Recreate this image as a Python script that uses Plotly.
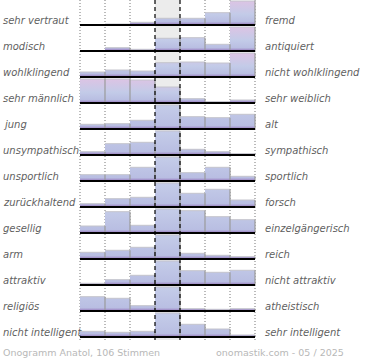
import plotly.graph_objects as go

# ---------------- data ----------------
left_labels = ["sehr vertraut", "modisch", "wohlklingend", "sehr männlich", "jung",
               "unsympathisch", "unsportlich", "zurückhaltend", "gesellig", "arm",
               "attraktiv", "religiös", "nicht intelligent"]
right_labels = ["fremd", "antiquiert", "nicht wohlklingend", "sehr weiblich", "alt",
                "sympathisch", "sportlich", "forsch", "einzelgängerisch", "reich",
                "nicht attraktiv", "atheistisch", "sehr intelligent"]

# bar heights per row, 7 scale steps (24 = full row height; middle values of
# rows 5-13 exceed the visible range and are drawn clipped)
r_vertraut     = [0.0, 1.0, 2.7, 6.7, 6.7, 12.3, 24.0]
r_modisch      = [0.0, 3.3, 1.7, 12.7, 13.3, 6.7, 24.0]
r_wohlklingend = [5.0, 7.0, 6.0, 14.3, 15.0, 14.0, 24.0]
r_maennlich    = [24.0, 24.0, 23.0, 16.0, 4.3, 1.3, 3.0]
r_jung         = [4.7, 5.3, 8.7, 48.0, 12.3, 11.3, 14.7]
r_sympathisch  = [3.3, 11.3, 12.7, 48.0, 5.7, 3.3, 1.3]
r_sportlich    = [6.3, 6.3, 13.7, 48.0, 8.3, 13.7, 4.7]
r_forsch       = [3.3, 8.3, 9.7, 48.0, 13.7, 17.7, 7.0]
r_gesellig     = [7.0, 21.3, 7.7, 48.0, 22.3, 16.3, 13.3]
r_arm          = [6.7, 8.7, 11.7, 48.0, 5.7, 3.7, 2.3]
r_attraktiv    = [1.7, 5.3, 9.7, 48.0, 14.3, 12.7, 14.7]
r_religioes    = [14.3, 12.7, 5.3, 48.0, 2.3, 1.7, 2.3]
r_intelligent  = [5.7, 4.7, 5.7, 48.0, 12.7, 8.0, 2.0]

rows = [r_vertraut, r_modisch, r_wohlklingend, r_maennlich, r_jung, r_sympathisch,
        r_sportlich, r_forsch, r_gesellig, r_arm, r_attraktiv, r_religioes, r_intelligent]

footer_left = "Onogramm Anatol, 106 Stimmen"
footer_right = "onomastik.com - 05 / 2025"

# ---------------- layout constants ----------------
W, H = 370, 360
X0, COLW = 80, 25          # left edge of plot / column width in px
ROW0, ROWH = 25, 26        # first baseline (px from top) / row pitch
CAP = 24.0                 # visible bar height
NCOL = 7


def sy(py):
    """screen y (px from top) -> data y"""
    return H - py


fig = go.Figure()

# bars with vertical gradient
right_x, right_y, top_x, top_y = [], [], [], []
for r, vals in enumerate(rows):
    base = sy(ROW0 + ROWH * r)
    G = max(CAP, max(vals))
    cs = [[0.0, "#8e7db6"], [1.5 / G, "#a596cc"], [3.2 / G, "#b9bee2"],
          [0.45, "#c3cbe8"], [1.0, "#dcc4e4"]]
    for c, v in enumerate(vals):
        h = min(v, CAP)
        if h <= 0:
            continue
        fig.add_trace(go.Scatter(
            x=[c, c + 1, c + 1, c, c], y=[base, base, base + h, base + h, base],
            mode="lines", fill="toself", line=dict(width=0),
            fillgradient=dict(type="vertical", colorscale=cs, start=base, stop=base + G),
            hoverinfo="skip", showlegend=False))
        right_x += [c + 1, c + 1, None]
        right_y += [base, base + h, None]
        top_x += [c, c + 1, None]
        top_y += [base + h, base + h, None]

fig.add_trace(go.Scatter(x=top_x, y=top_y, mode="lines",
                         line=dict(color="#c4c4cc", width=1),
                         hoverinfo="skip", showlegend=False))
fig.add_trace(go.Scatter(x=right_x, y=right_y, mode="lines",
                         line=dict(color="#9a9a9a", width=1.2),
                         hoverinfo="skip", showlegend=False))

# middle column background
fig.add_shape(type="rect", x0=3, x1=4, y0=sy(340), y1=sy(0),
              fillcolor="#ececec", line_width=0, layer="below")
# dotted grid
for xv in [0, 1, 2, 5, 6, 7]:
    fig.add_shape(type="line", x0=xv, x1=xv, y0=sy(340), y1=sy(0),
                  line=dict(color="#777777", width=1, dash="1px,2px"), layer="below")
# baselines
for r in range(len(rows)):
    b = sy(ROW0 + ROWH * r)
    fig.add_shape(type="line", x0=0, x1=NCOL, y0=b, y1=b,
                  line=dict(color="#000000", width=2), layer="above")
# dashed middle borders
for xv in [3, 4]:
    fig.add_shape(type="line", x0=xv, x1=xv, y0=sy(340), y1=sy(0),
                  line=dict(color="#000000", width=1.2, dash="4px,3px"), layer="above")

# labels
lab_font = dict(family="DejaVu Sans", size=10, color="#5f5f5f", style="italic")
for r in range(len(rows)):
    yv = sy(ROW0 + ROWH * r - 5)
    fig.add_annotation(x=1 / W, xref="paper", y=yv, yref="y", text=left_labels[r],
                       showarrow=False, xanchor="left", yanchor="middle", font=lab_font)
    fig.add_annotation(x=263 / W, xref="paper", y=yv, yref="y", text=right_labels[r],
                       showarrow=False, xanchor="left", yanchor="middle", font=lab_font)

foot_font = dict(family="DejaVu Sans", size=9.5, color="#b8b8b8")
fig.add_annotation(x=1 / W, xref="paper", y=sy(352), yref="y", text=footer_left,
                   showarrow=False, xanchor="left", yanchor="middle", font=foot_font)
fig.add_annotation(x=346 / W, xref="paper", y=sy(352), yref="y", text=footer_right,
                   showarrow=False, xanchor="right", yanchor="middle", font=foot_font)

fig.update_layout(
    width=W, height=H, margin=dict(l=0, r=0, t=0, b=0),
    paper_bgcolor="white", plot_bgcolor="white",
    xaxis=dict(range=[-X0 / COLW, (W - X0) / COLW], visible=False, fixedrange=True),
    yaxis=dict(range=[0, H], visible=False, fixedrange=True),
    showlegend=False,
)

fig.write_html("out.html", config={"displayModeBar": False},
               post_script="document.body.style.margin='0';document.body.style.padding='0';")
